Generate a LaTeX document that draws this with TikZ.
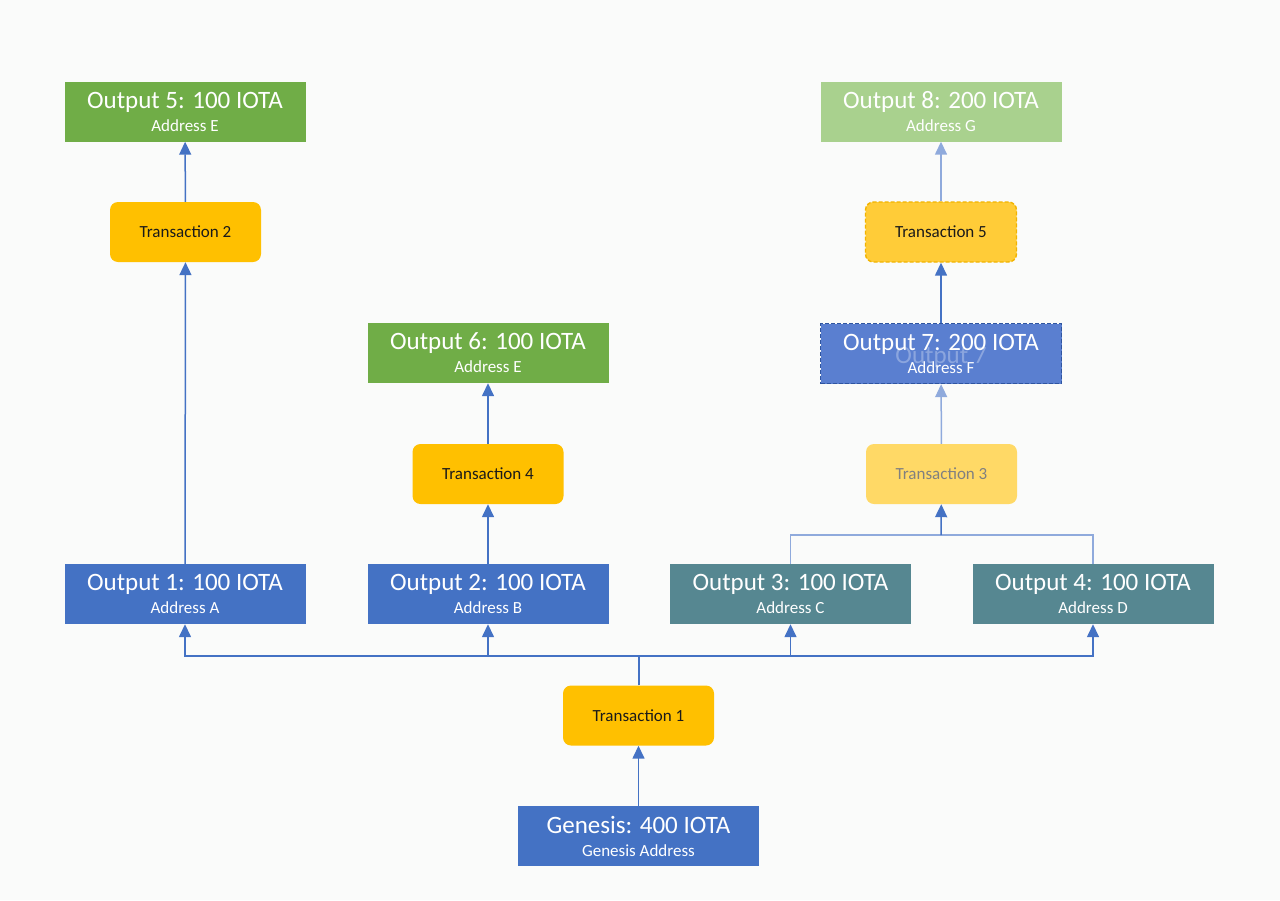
\documentclass[tikz,border=0pt]{standalone}
\usepackage{fontspec}
\setmainfont{Carlito}
\usetikzlibrary{arrows.meta}

\definecolor{bgpaper}{HTML}{FAFBFA}
\definecolor{ioblue}{HTML}{4472C4}
\definecolor{iogreen}{HTML}{70AD47}
\definecolor{iogreenfade}{HTML}{A9D18E}
\definecolor{ioteal}{HTML}{568791}
\definecolor{iogold}{HTML}{FFC000}
\definecolor{iogoldfade}{HTML}{FFD966}
\definecolor{iogoldmid}{HTML}{FFCC38}
\definecolor{iogoldline}{HTML}{F2B400}
\definecolor{ioblueseven}{HTML}{5A7FD0}
\definecolor{iobluedark}{HTML}{2F55A0}
\definecolor{iofade}{HTML}{8FAADC}
\definecolor{txtext}{HTML}{1A1A1A}

\tikzset{
  outbox/.style={rectangle, minimum width=241pt, minimum height=60pt, inner sep=0pt,
    text=white, align=center, font=\fontsize{17}{23}\selectfont},
  txbox/.style={rectangle, rounded corners=8pt, fill=iogold, minimum width=151pt,
    minimum height=60pt, inner sep=0pt, text=txtext, font=\fontsize{17}{20}\selectfont},
  link/.style={draw=ioblue, line width=1.5pt},
  fade/.style={draw=iofade, line width=1.5pt},
}
\newcommand{\outlines}[2]{{\fontsize{25}{23}\selectfont #1}\\#2}

\begin{document}
\begin{tikzpicture}[x=1pt, y=-1pt, >={Triangle[width=12pt,length=13pt]}]
  \fill[bgpaper] (0,0) rectangle (1280,900);
  \useasboundingbox (0,0) rectangle (1280,900);

  % outputs
  \node[outbox, fill=ioblue] (G) at (638.5,836) {\outlines{Genesis: 400 IOTA}{Genesis Address}};
  \node[outbox, fill=ioblue] (O1) at (185,594) {\outlines{Output 1: 100 IOTA}{Address A}};
  \node[outbox, fill=ioblue] (O2) at (488,594) {\outlines{Output 2: 100 IOTA}{Address B}};
  \node[outbox, fill=ioteal] (O3) at (790.5,594) {\outlines{Output 3: 100 IOTA}{Address C}};
  \node[outbox, fill=ioteal] (O4) at (1093,594) {\outlines{Output 4: 100 IOTA}{Address D}};
  \node[outbox, fill=iogreen] (O5) at (185,111.5) {\outlines{Output 5: 100 IOTA}{Address E}};
  \node[outbox, fill=iogreen] (O6) at (488,353) {\outlines{Output 6: 100 IOTA}{Address E}};
  \node[outbox, fill=ioblueseven, draw=iobluedark, line width=1.4pt,
        dash pattern=on 4pt off 2pt] (O7) at (941,353.5) {\outlines{Output 7: 200 IOTA}{Address F}};
  \node[text=white, opacity=0.3, font=\fontsize{25}{25}\selectfont] (O7ghost) at (941,357) {Output 7};
  \node[outbox, fill=iogreenfade] (O8) at (941,111.5) {\outlines{Output 8: 200 IOTA}{Address G}};

  % transactions
  \node[txbox] (T1) at (638.5,715.5) {Transaction 1};
  \node[txbox] (T2) at (185.5,232) {Transaction 2};
  \node[txbox, fill=iogoldfade, text=black!50] (T3) at (941.5,474) {Transaction 3};
  \node[txbox] (T4) at (488,474) {Transaction 4};
  \node[txbox, fill=iogoldmid, draw=iogoldline, line width=1.4pt,
        dash pattern=on 4pt off 2pt] (T5) at (941,232) {Transaction 5};

  % connectors
  \coordinate (bus) at (638.5,656);
  \coordinate (merge) at (941,535);
  \draw[link, ->] (G) -- (T1);
  \draw[link, line width=2pt] (T1) -- (bus);
  \draw[link, ->] (bus) -| (O1);
  \draw[link, ->] (bus) -| (O2);
  \draw[link, ->] (bus) -| (O3);
  \draw[link, ->] (bus) -| (O4);
  \draw[link, ->] (O1) -- (T2);
  \draw[link, ->] (T2) -- (O5);
  \draw[link, ->] (O2) -- (T4);
  \draw[link, ->] (T4) -- (O6);
  \draw[fade] (O3) |- (merge);
  \draw[fade] (O4) |- (merge);
  \draw[link, ->] (merge) -- (T3);
  \draw[fade, ->] (T3) -- (O7);
  \draw[link, ->] (O7) -- (T5);
  \draw[fade, ->] (T5) -- (O8);
\end{tikzpicture}
\end{document}
